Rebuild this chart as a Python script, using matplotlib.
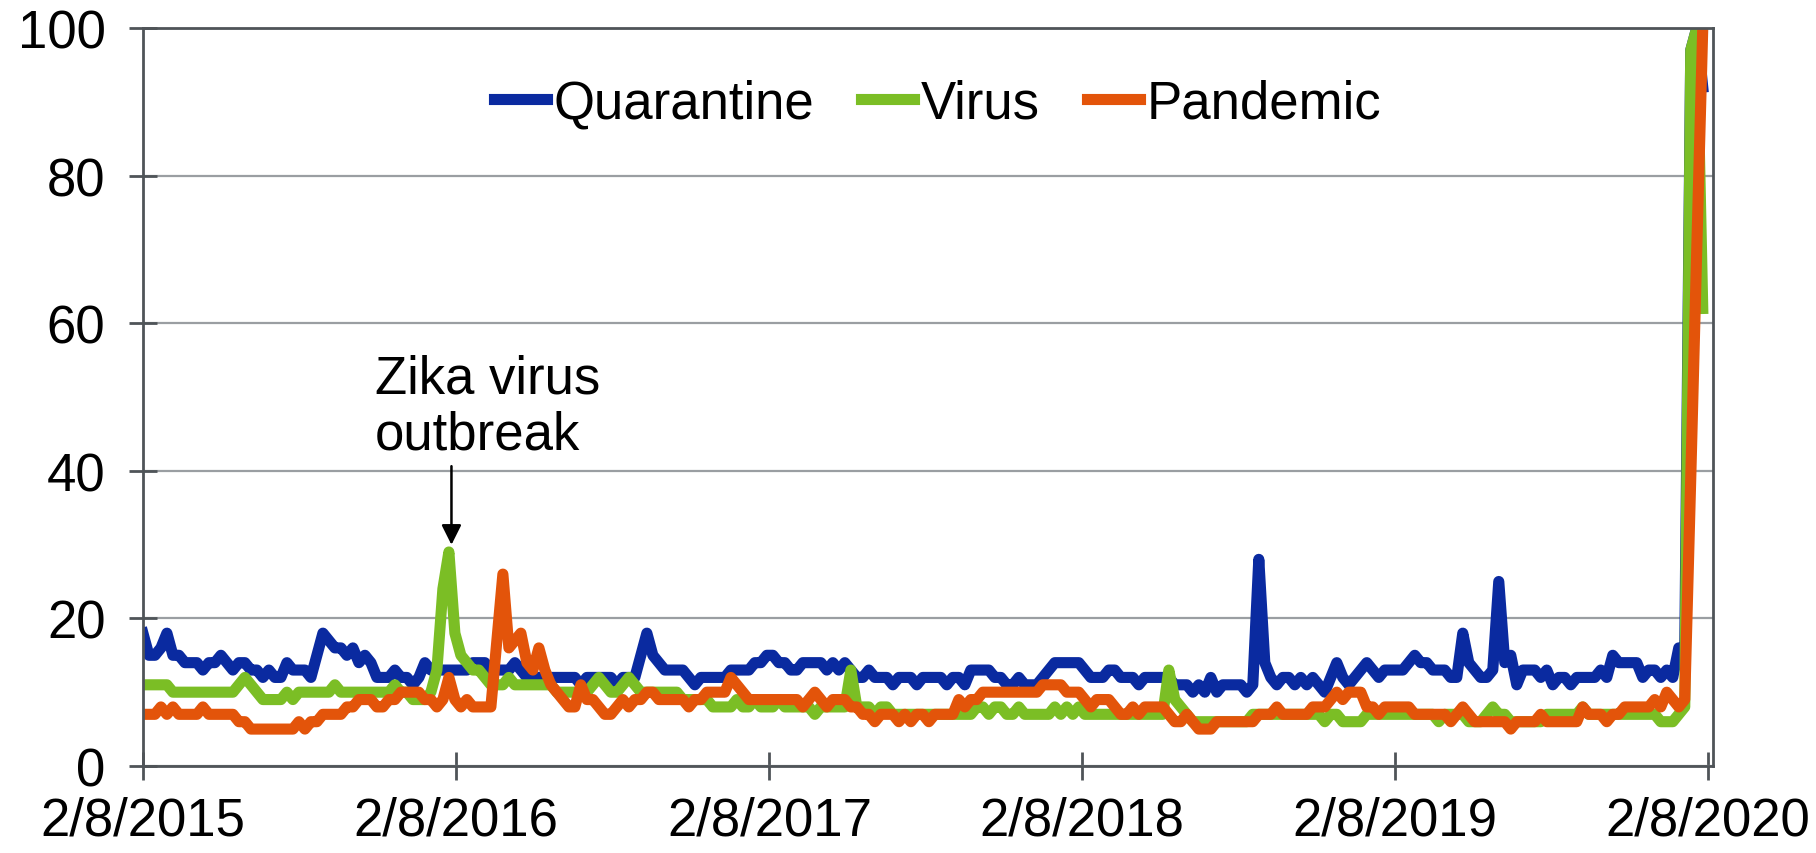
import matplotlib
matplotlib.use('Agg')
import matplotlib.pyplot as plt
import pandas as pd

# Google Trends style weekly search interest, 2/8/2015 onward
quarantine = [
    18, 15, 15, 16, 18, 15, 15, 14, 14, 14,
    13, 14, 14, 15, 14, 13, 14, 14, 13, 13,
    12, 13, 12, 12, 14, 13, 13, 13, 12, 15,
    18, 17, 16, 16, 15, 16, 14, 15, 14, 12,
    12, 12, 13, 12, 12, 11, 12, 14, 13, 13,
    13, 13, 13, 13, 13, 14, 14, 14, 13, 13,
    13, 13, 14, 13, 12, 12, 12, 12, 12, 12,
    12, 12, 12, 11, 12, 12, 12, 12, 12, 11,
    12, 12, 12, 15, 18, 15, 14, 13, 13, 13,
    13, 12, 11, 12, 12, 12, 12, 12, 13, 13,
    13, 13, 14, 14, 15, 15, 14, 14, 13, 13,
    14, 14, 14, 14, 13, 14, 13, 14, 13, 12,
    12, 13, 12, 12, 12, 11, 12, 12, 12, 11,
    12, 12, 12, 12, 11, 12, 12, 11, 13, 13,
    13, 13, 12, 12, 11, 11, 12, 11, 11, 11,
    12, 13, 14, 14, 14, 14, 14, 13, 12, 12,
    12, 13, 13, 12, 12, 12, 11, 12, 12, 12,
    12, 12, 11, 11, 11, 10, 11, 10, 12, 10,
    11, 11, 11, 11, 10, 11, 28, 14, 12, 11,
    12, 12, 11, 12, 11, 12, 11, 10, 12, 14,
    12, 11, 12, 13, 14, 13, 12, 13, 13, 13,
    13, 14, 15, 14, 14, 13, 13, 13, 12, 12,
    18, 14, 13, 12, 12, 13, 25, 14, 15, 11,
    13, 13, 13, 12, 13, 11, 12, 12, 11, 12,
    12, 12, 12, 13, 12, 15, 14, 14, 14, 14,
    12, 13, 13, 12, 13, 12, 16, 16, 97, 100,
    92,
]
virus = [
    11, 11, 11, 11, 11, 10, 10, 10, 10, 10,
    10, 10, 10, 10, 10, 10, 11, 12, 11, 10,
    9, 9, 9, 9, 10, 9, 10, 10, 10, 10,
    10, 10, 11, 10, 10, 10, 10, 10, 10, 10,
    10, 10, 11, 10, 10, 9, 9, 9, 10, 13,
    24, 29, 18, 15, 14, 13, 13, 12, 11, 11,
    11, 12, 11, 11, 11, 11, 11, 11, 11, 10,
    10, 10, 10, 10, 10, 11, 12, 11, 10, 10,
    11, 12, 11, 10, 10, 10, 10, 10, 10, 10,
    9, 9, 9, 9, 9, 8, 8, 8, 8, 9,
    8, 8, 9, 8, 8, 8, 9, 8, 8, 8,
    8, 8, 7, 8, 8, 8, 8, 8, 13, 8,
    8, 8, 7, 8, 8, 7, 7, 7, 7, 7,
    7, 7, 7, 7, 7, 7, 7, 7, 7, 8,
    8, 7, 8, 8, 7, 7, 8, 7, 7, 7,
    7, 7, 8, 7, 8, 7, 8, 7, 7, 7,
    7, 7, 7, 7, 7, 7, 7, 7, 7, 7,
    7, 13, 9, 8, 7, 6, 6, 6, 6, 6,
    6, 6, 6, 6, 6, 7, 7, 7, 7, 7,
    7, 7, 7, 7, 7, 7, 7, 6, 7, 7,
    6, 6, 6, 6, 7, 7, 7, 7, 7, 7,
    7, 7, 7, 7, 7, 7, 6, 7, 7, 7,
    7, 6, 6, 6, 7, 8, 7, 7, 6, 6,
    6, 6, 6, 6, 7, 7, 7, 7, 7, 7,
    8, 7, 7, 7, 7, 7, 7, 7, 7, 7,
    7, 7, 7, 6, 6, 6, 7, 8, 97, 100,
    62,
]
pandemic = [
    7, 7, 7, 8, 7, 8, 7, 7, 7, 7,
    8, 7, 7, 7, 7, 7, 6, 6, 5, 5,
    5, 5, 5, 5, 5, 5, 6, 5, 6, 6,
    7, 7, 7, 7, 8, 8, 9, 9, 9, 8,
    8, 9, 9, 10, 10, 10, 10, 9, 9, 8,
    9, 12, 9, 8, 9, 8, 8, 8, 8, 17,
    26, 16, 17, 18, 14, 13, 16, 13, 11, 10,
    9, 8, 8, 11, 9, 9, 8, 7, 7, 8,
    9, 8, 9, 9, 10, 10, 9, 9, 9, 9,
    9, 8, 9, 9, 10, 10, 10, 10, 12, 11,
    10, 9, 9, 9, 9, 9, 9, 9, 9, 9,
    8, 9, 10, 9, 8, 9, 9, 9, 8, 8,
    7, 7, 6, 7, 7, 7, 6, 7, 6, 7,
    7, 6, 7, 7, 7, 7, 9, 8, 9, 9,
    10, 10, 10, 10, 10, 10, 10, 10, 10, 10,
    11, 11, 11, 11, 10, 10, 10, 9, 8, 9,
    9, 9, 8, 7, 7, 8, 7, 8, 8, 8,
    8, 7, 6, 6, 7, 6, 5, 5, 5, 6,
    6, 6, 6, 6, 6, 6, 7, 7, 7, 8,
    7, 7, 7, 7, 7, 8, 8, 8, 9, 10,
    9, 10, 10, 10, 8, 8, 7, 8, 8, 8,
    8, 8, 7, 7, 7, 7, 7, 7, 6, 7,
    8, 7, 6, 6, 6, 6, 6, 6, 5, 6,
    6, 6, 6, 7, 6, 6, 6, 6, 6, 6,
    8, 7, 7, 7, 6, 7, 7, 8, 8, 8,
    8, 8, 9, 8, 10, 9, 8, 9, 39, 70,
    100,
]
dates = pd.date_range('2015-02-08', periods=len(quarantine), freq='7D')

tick_dates = pd.to_datetime(['2015-02-08', '2016-02-08', '2017-02-08',
                             '2018-02-08', '2019-02-08', '2020-02-08'])
tick_labels = ['2/8/2015', '2/8/2016', '2/8/2017', '2/8/2018', '2/8/2019', '2/8/2020']

plt.rcParams['font.family'] = ['Liberation Sans', 'DejaVu Sans']
fs = 38
axis_col = '#4f5458'

fig = plt.figure(figsize=(18.16, 8.54), dpi=100)
ax = fig.add_axes([0.0787, 0.1019, 0.8646, 0.8641])

ax.plot(dates, quarantine, color='#0a2aa0', lw=8, label='Quarantine', solid_joinstyle='round')
ax.plot(dates, virus, color='#7bbe25', lw=8, label='Virus', solid_joinstyle='round')
ax.plot(dates, pandemic, color='#e3540a', lw=8, label='Pandemic', solid_joinstyle='round')

ax.set_ylim(0, 100)
ax.set_yticks([0, 20, 40, 60, 80, 100])
ax.set_xlim(pd.Timestamp('2015-02-08'), pd.Timestamp('2020-02-14'))
ax.set_xticks(tick_dates)
ax.set_xticklabels(tick_labels)

ax.grid(axis='y', color='#9a9ea2', lw=1.6)
ax.set_axisbelow(True)
for s in ax.spines.values():
    s.set_color(axis_col)
    s.set_linewidth(2)
ax.tick_params(direction='inout', length=20, width=2, color=axis_col, labelsize=fs)
ax.tick_params(axis='y', pad=17)
ax.tick_params(axis='x', pad=11)

# Zika annotation
zika = pd.Timestamp('2016-02-03')
ax.annotate('', xy=(zika, 29.6), xytext=(zika, 41),
            arrowprops=dict(arrowstyle='-|>', color='black', lw=1.8, mutation_scale=30))
ax.text(pd.Timestamp('2015-11-06'), 41.5, 'Zika virus\noutbreak', fontsize=fs,
        ha='left', va='bottom', linespacing=1.15)

ax.legend(loc='center', bbox_to_anchor=(0.506, 0.898), ncol=3, frameon=False,
          fontsize=fs, handlelength=1.0, handletextpad=0.12, columnspacing=0.9,
          borderaxespad=0)

fig.savefig('out.png', dpi=100)
